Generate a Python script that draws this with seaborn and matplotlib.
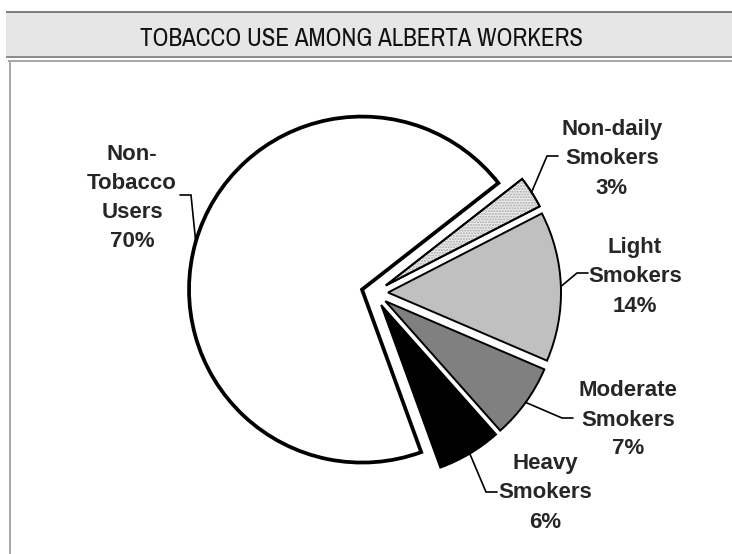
import numpy as np
import matplotlib
matplotlib.use("Agg")
import matplotlib.pyplot as plt
from matplotlib import font_manager
from matplotlib.font_manager import FontProperties
from matplotlib.patches import Rectangle, Wedge
import seaborn as sns

# values (percent of workers)
groups = ["Non-\nTobacco\nUsers", "Non-daily\nSmokers", "Light\nSmokers",
          "Moderate\nSmokers", "Heavy\nSmokers"]
shares = [70, 3, 14, 7, 6]
title = "TOBACCO USE AMONG ALBERTA WORKERS"

# styling
fills = ["#ffffff", "#ececec", "#c0c0c0", "#808080", "#000000"]
explode = [0.072, 0.081, 0.081, 0.081, 0.081]

# layout in pixels of the 732x554 picture
W, H = 732, 554
S = 173.0            # pie radius in px
cx, cy = 374, 293    # pie centre in px
label_xy = [(132, 198), (612, 159), (635, 277), (628, 420), (545, 493)]
leader_end = [(180, 195), (558, 156), (588, 273), (573, 418), (497, 492)]

sns.set_style("white")
plt.rcParams['font.family'] = ['Liberation Sans', 'DejaVu Sans']

# look for a narrow face for the title
narrow = [f for f in font_manager.fontManager.ttflist
          if ("Narrow" in f.name or "Condensed" in f.name
              or str(f.stretch) in ("condensed", "semi-condensed"))
          and f.weight in (400, "normal", "regular") and f.style == "normal"]
narrow.sort(key=lambda f: (not f.name.startswith("Liberation"), f.name))
if narrow:
    title_fp = FontProperties(fname=narrow[0].fname, size=18)
else:
    title_fp = FontProperties(family="Liberation Sans", size=15.8)


def to_data(px, py):
    return (px - cx) / S, (cy - py) / S


def rect(fig, x0, y0, x1, y1, color):
    fig.add_artist(Rectangle((x0 / W, 1 - y1 / H), (x1 - x0) / W, (y1 - y0) / H,
                             transform=fig.transFigure, facecolor=color,
                             edgecolor="none", zorder=0))


fig = plt.figure(figsize=(W / 100, H / 100), dpi=100)

# title band and frame
rect(fig, 6, 13, W, 57, "#e6e6e6")
rect(fig, 6, 11, W, 13, "#808080")
rect(fig, 6, 56, W, 58, "#8c8c8c")
rect(fig, 8, 60, W, 62, "#a8a8a8")
rect(fig, 9, 60, 11, H, "#a8a8a8")
fig.text(361 / W, 1 - 39 / H, title, ha="center", va="center",
         fontproperties=title_fp, color="#111111")

ax = fig.add_axes([0, 0, 1, 1])
wedges, _ = ax.pie(shares, explode=explode, colors=fills, startangle=-70,
                   counterclock=False, radius=1,
                   wedgeprops=dict(edgecolor="black", linewidth=1.4,
                                   joinstyle="miter"))
wedges[0].set_linewidth(2.7)

# stipple for the non-daily slice
nd = wedges[1]
ax.add_patch(Wedge(nd.center, nd.r, nd.theta1, nd.theta2, facecolor="none",
                   edgecolor="#a8a8a8", linewidth=0, hatch="......", zorder=nd.zorder + 0.1))
ax.add_patch(Wedge(nd.center, nd.r, nd.theta1, nd.theta2, facecolor="none",
                   edgecolor="black", linewidth=1.4, joinstyle="miter", zorder=nd.zorder + 0.2))

# labels with elbow leader lines
for w, g, s, (lx, ly), (ex, ey) in zip(wedges, groups, shares, label_xy, leader_end):
    ax.text(*to_data(lx, ly), f"{g}\n{s}%", ha="center", va="center",
            fontsize=16, fontweight="bold", linespacing=1.5)
    mid = np.deg2rad((w.theta1 + w.theta2) / 2)
    wx, wy = w.center
    px_, py_ = wx + w.r * np.cos(mid), wy + w.r * np.sin(mid)
    step = 11 if ex < cx else -11
    p_end = to_data(ex, ey)
    p_elb = to_data(ex + step, ey)
    ax.plot([p_end[0], p_elb[0], px_], [p_end[1], p_elb[1], py_],
            color="black", lw=1.2, solid_joinstyle="miter")

ax.set_xlim(-cx / S, (W - cx) / S)
ax.set_ylim((cy - H) / S, cy / S)
ax.set_aspect("auto")
ax.axis("off")

fig.savefig("out.png", dpi=100)
